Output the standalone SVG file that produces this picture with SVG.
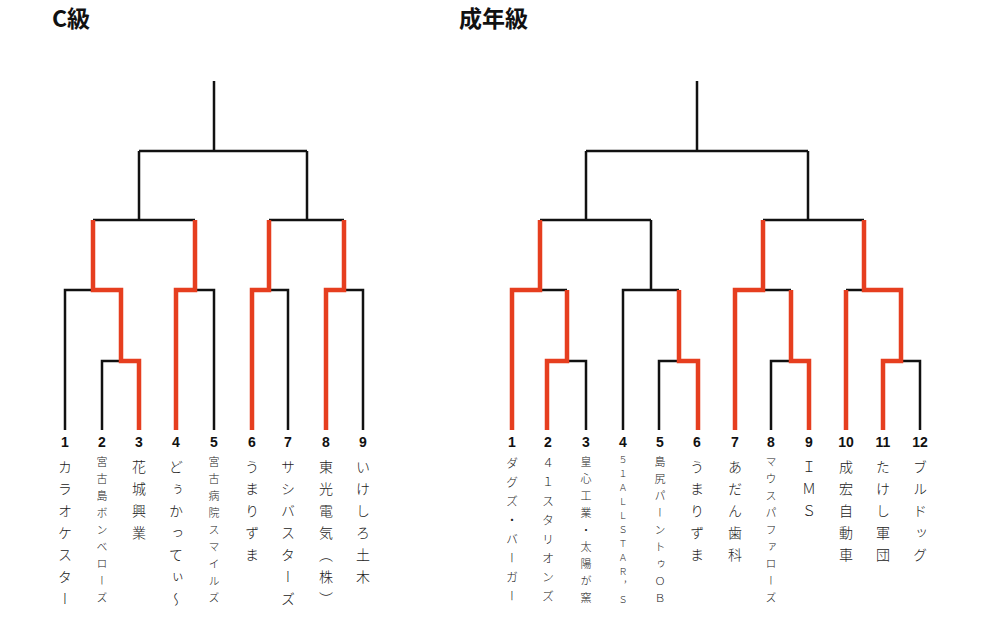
<svg xmlns="http://www.w3.org/2000/svg" width="981" height="623" viewBox="0 0 981 623">
<style>
.b{fill:none;stroke:#111;stroke-width:2.5;stroke-linecap:butt}
.r{fill:none;stroke:#e63e1f;stroke-width:4.5;stroke-linejoin:miter;stroke-linecap:butt}
.t{font-family:"Noto Sans CJK JP","Liberation Sans",sans-serif;font-weight:bold;font-size:23px;fill:#111}
.n{font-family:"Liberation Sans","Noto Sans CJK JP",sans-serif;font-weight:bold;font-size:14px;fill:#111;text-anchor:middle}
.v{font-family:"Noto Sans CJK JP",sans-serif;font-weight:300;writing-mode:vertical-rl;fill:#222}
.s22{font-size:14px;letter-spacing:8px}
.s19{font-size:12px;letter-spacing:7px}
.s17{font-size:11px;letter-spacing:6px}
.s14{font-size:9px;letter-spacing:5px}
</style>
<rect width="981" height="623" fill="#fff"/>
<text class="t" x="52" y="27">C級</text>
<text class="t" x="459" y="27">成年級</text>
<g id="connectors">
<g id="c-black">
<path class="b" d="M214 81V151M139 151H307M139 151V220M307 151V220M93 220H195M269 220H344M65 430V290H93M102 430V361H121M195 290H214V430M269 290H288V430M344 290H363V430"/>
</g>
<g id="c-red">
<path class="r" d="M139 430V361H121V290H93V220"/>
<path class="r" d="M176 430V290H195V220"/>
<path class="r" d="M252 430V290H269V220"/>
<path class="r" d="M326 430V290H344V220"/>
</g>
<g id="a-black">
<path class="b" d="M697 81V151M586 151H808M586 151V220M808 151V220M540 220H651M763 220H864M651 220V290M540 290H567M586 430V361H567M623 430V290H679M659 430V361H679M763 290H791M771 430V361H791M846 290H864M920 430V361H901"/>
</g>
<g id="a-red">
<path class="r" d="M512 430V290H540V220"/>
<path class="r" d="M547 430V361H567V290"/>
<path class="r" d="M698 430V361H679V290"/>
<path class="r" d="M735 430V290H763V220"/>
<path class="r" d="M809 430V361H791V290"/>
<path class="r" d="M846 430V290"/>
<path class="r" d="M883 430V361H901V290H864V220"/>
</g>
</g>
<g id="c1"><text class="n" x="65" y="447">1</text><text class="v s22" x="65" y="460">カラオケスター</text></g>
<g id="c2"><text class="n" x="102" y="447">2</text><text class="v s17" x="102" y="456.5">宮古島ボンベローズ</text></g>
<g id="c3"><text class="n" x="139" y="447">3</text><text class="v s22" x="139" y="460">花城興業</text></g>
<g id="c4"><text class="n" x="176" y="447">4</text><text class="v s22" x="176" y="460">どぅかってぃ～</text></g>
<g id="c5"><text class="n" x="214" y="447">5</text><text class="v s17" x="214" y="456.5">宮古病院スマイルズ</text></g>
<g id="c6"><text class="n" x="252" y="447">6</text><text class="v s22" x="252" y="460">うまりずま</text></g>
<g id="c7"><text class="n" x="288" y="447">7</text><text class="v s22" x="288" y="460">サシバスターズ</text></g>
<g id="c8"><text class="n" x="326" y="447">8</text><text class="v s22" x="326" y="460">東光電気（株）</text></g>
<g id="c9"><text class="n" x="363" y="447">9</text><text class="v s22" x="363" y="460">いけしろ土木</text></g>
<g id="a1"><text class="n" x="512" y="447">1</text><text class="v s19" x="512" y="457">ダグズ・バーガー</text></g>
<g id="a2"><text class="n" x="548" y="447">2</text><text class="v s19" x="548" y="457">４１スタリオンズ</text></g>
<g id="a3"><text class="n" x="586" y="447">3</text><text class="v s17" x="586" y="456.5">皇心工業・太陽が窯</text></g>
<g id="a4"><text class="n" x="623" y="447">4</text><text class="v s14" x="623" y="455.5">５１ＡＬＬＳＴＡＲ，Ｓ</text></g>
<g id="a5"><text class="n" x="660" y="447">5</text><text class="v s17" x="660" y="456.5">島尻パーントゥＯＢ</text></g>
<g id="a6"><text class="n" x="697" y="447">6</text><text class="v s22" x="697" y="460">うまりずま</text></g>
<g id="a7"><text class="n" x="735" y="447">7</text><text class="v s22" x="735" y="460">あだん歯科</text></g>
<g id="a8"><text class="n" x="771" y="447">8</text><text class="v s17" x="771" y="456.5">マウスパファローズ</text></g>
<g id="a9"><text class="n" x="809" y="447">9</text><text class="v s22" x="809" y="460">ＩＭＳ</text></g>
<g id="a10"><text class="n" x="846" y="447">10</text><text class="v s22" x="846" y="460">成宏自動車</text></g>
<g id="a11"><text class="n" x="883" y="447">11</text><text class="v s22" x="883" y="460">たけし軍団</text></g>
<g id="a12"><text class="n" x="920" y="447">12</text><text class="v s22" x="920" y="460">ブルドッグ</text></g>
</svg>
